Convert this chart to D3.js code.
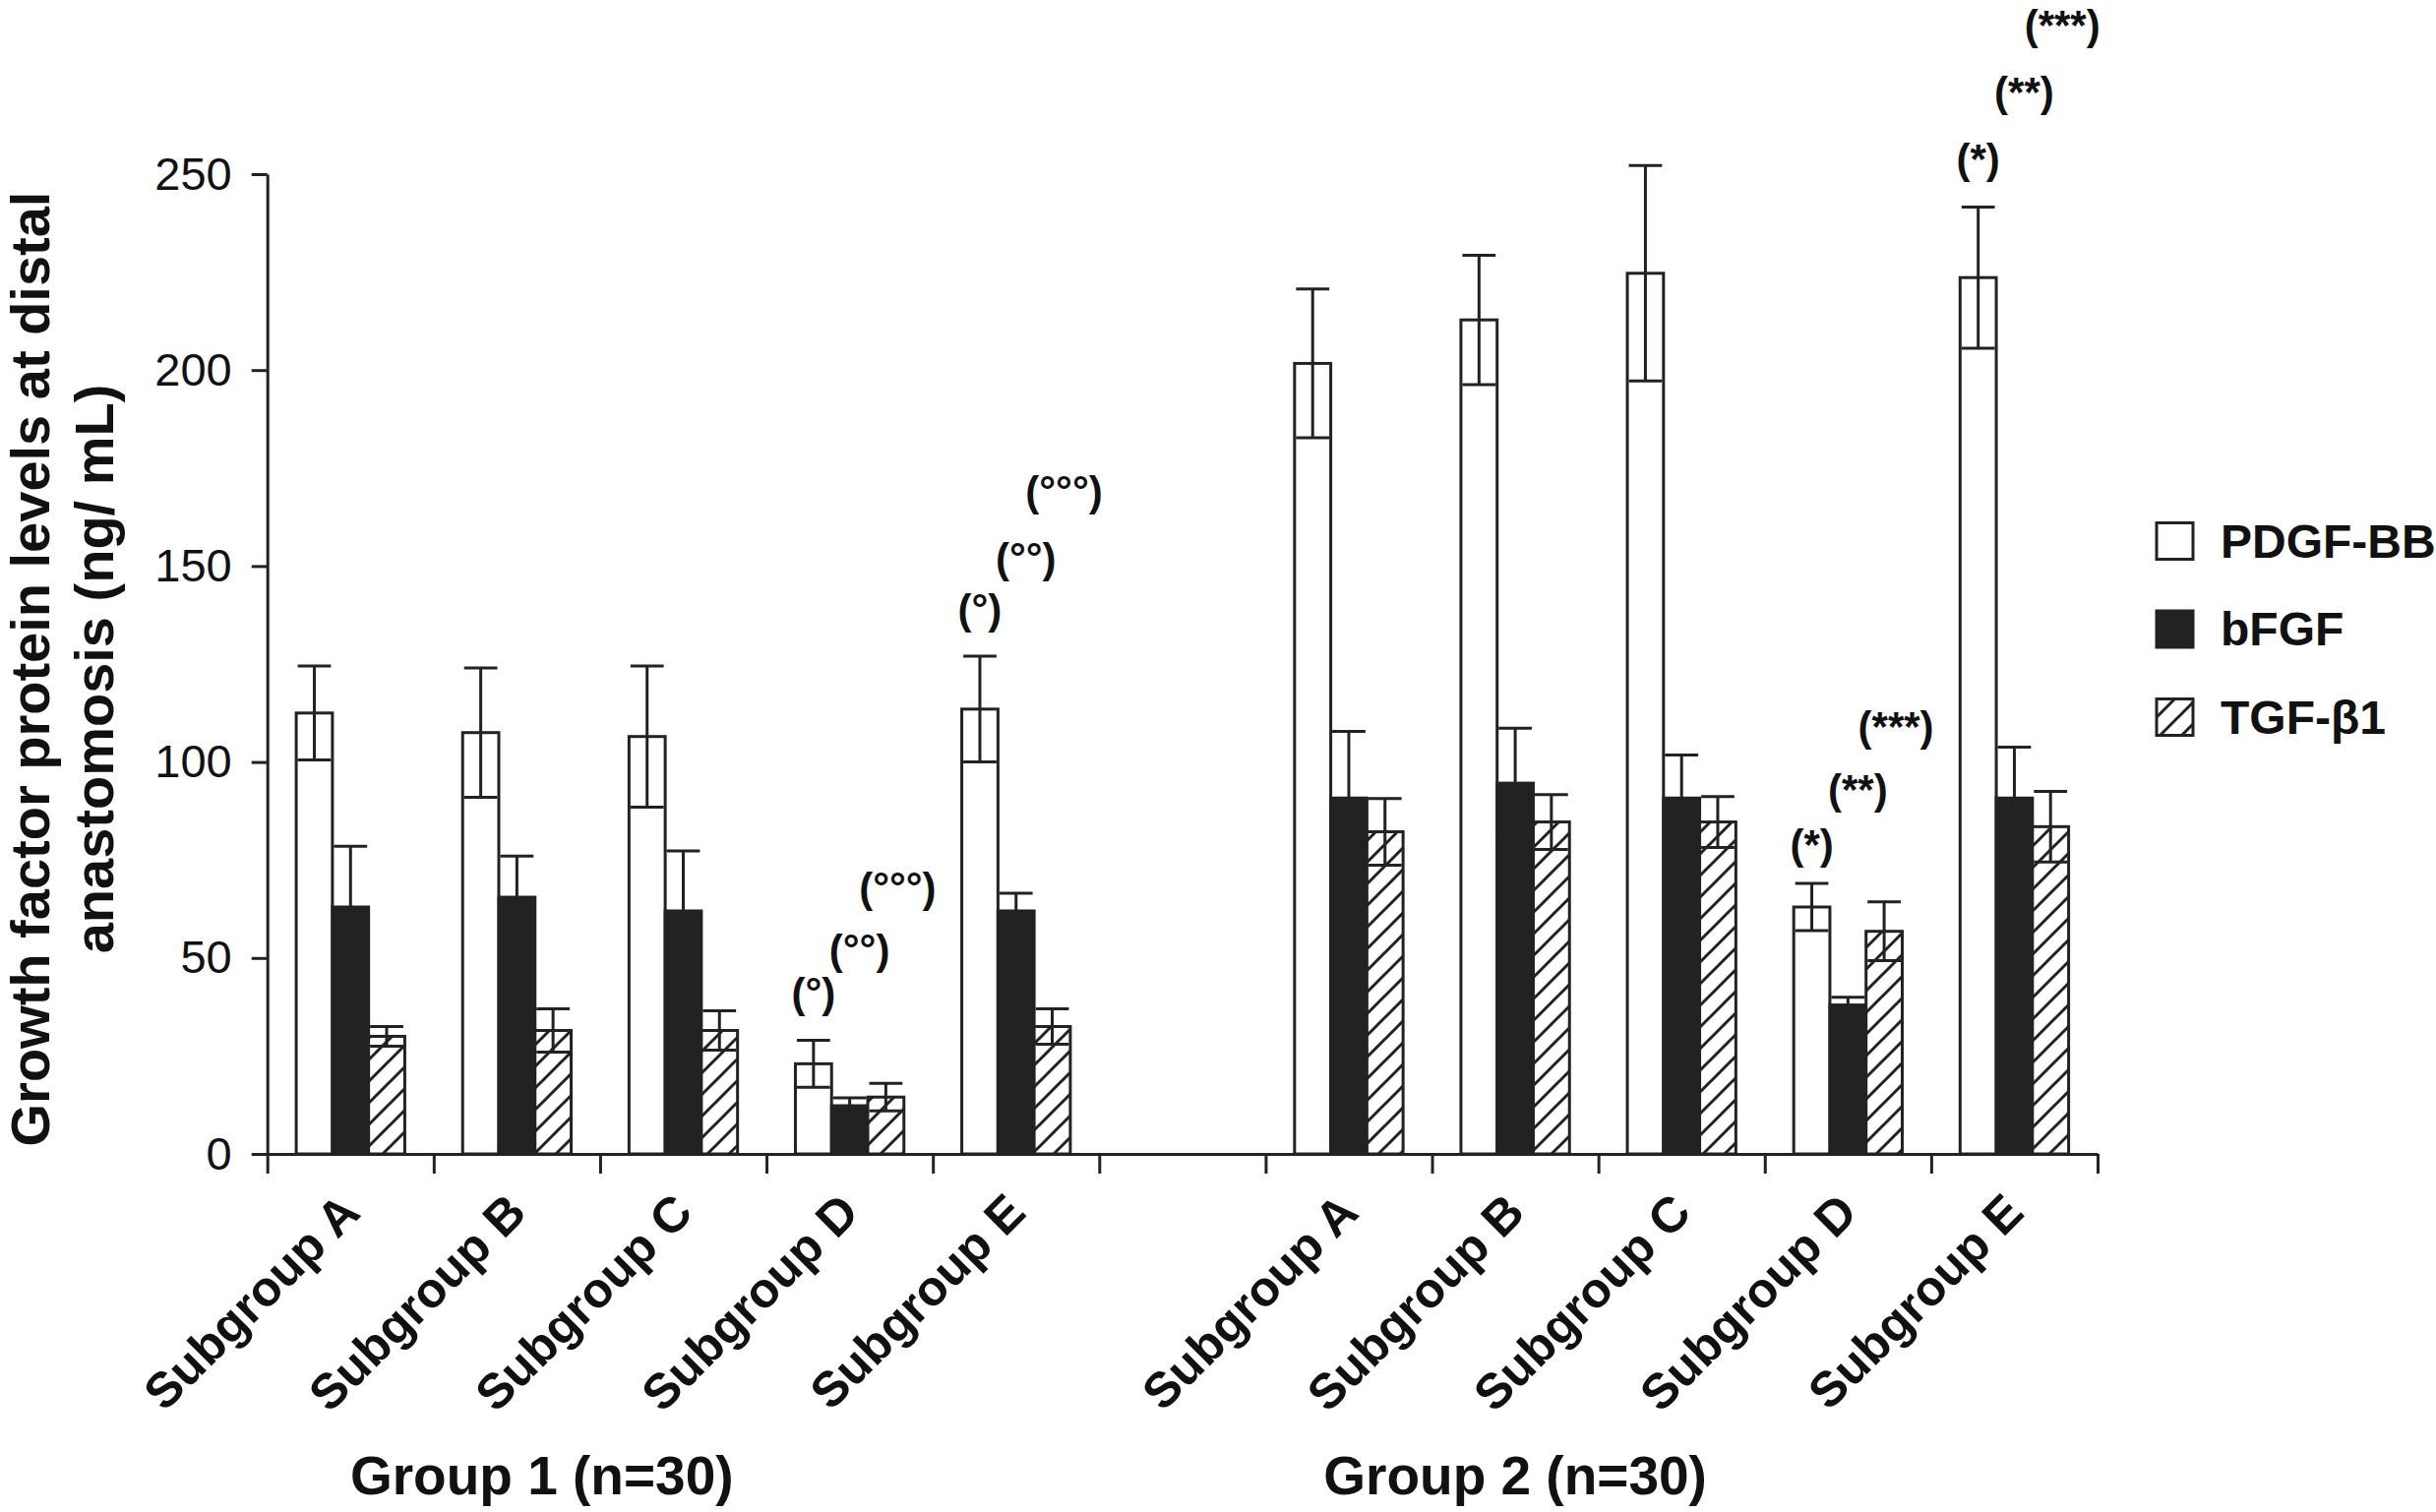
<!DOCTYPE html>
<html>
<head>
<meta charset="utf-8">
<script src="https://cdn.jsdelivr.net/npm/d3@7"></script>
<style>
  body { margin: 0; background: #fff; }
  text { font-family: "Liberation Sans", Arial, Helvetica, sans-serif; fill: #111; }
</style>
</head>
<body>
<script>
// categories
let subgroups = ['Subgroup A', 'Subgroup B', 'Subgroup C', 'Subgroup D', 'Subgroup E'];
let groups = ['Group 1 (n=30)', 'Group 2 (n=30)'];
let series = ['PDGF-BB', 'bFGF', 'TGF-β1'];
let yTicks = [0, 50, 100, 150, 200, 250];

// means (ng/mL), one row per subgroup, columns = series
let group1Mean = [[112.5, 63, 30], [107.5, 65.5, 31.5], [106.5, 62, 31.5], [23, 12.3, 14.5], [113.5, 62, 32.5]];
let group1Err  = [[12, 15.5, 2.5], [16.5, 10.5, 5.5], [18, 15.3, 5], [6, 2, 3.5], [13.5, 4.5, 4.5]];
let group2Mean = [[201.7, 90.8, 82.2], [212.8, 94.6, 84.7], [224.7, 90.8, 84.7], [63, 38, 56.8], [223.6, 90.8, 83.5]];
let group2Err  = [[19, 17, 8.5], [16.5, 14, 7], [27.5, 11, 6.5], [6, 2, 7.5], [18, 13, 9]];

// significance marks: group, subgroup index, series index, text, level (data units)
let marks = [
  [0, 3, 0, '(°)', 41], [0, 3, 1, '(°°)', 52], [0, 3, 2, '(°°°)', 68],
  [0, 4, 0, '(°)', 139], [0, 4, 1, '(°°)', 152], [0, 4, 2, '(°°°)', 169],
  [1, 3, 0, '(*)', 79], [1, 3, 1, '(**)', 93], [1, 3, 2, '(***)', 109],
  [1, 4, 0, '(*)', 254], [1, 4, 1, '(**)', 271], [1, 4, 2, '(***)', 288]
];

let svgWidth = 2476, svgHeight = 1537;
let plotLeft = 271.7, plotRight = 2132, plotTop = 177, plotBottom = 1173;
let ink = '#222';

let svg = d3.select('body').append('svg')
    .attr('width', svgWidth).attr('height', svgHeight);

let defs = svg.append('defs');
let hatch = defs.append('pattern')
    .attr('id', 'hatch').attr('patternUnits', 'userSpaceOnUse')
    .attr('width', 22).attr('height', 22);
hatch.append('rect').attr('width', 22).attr('height', 22).attr('fill', '#fff');
hatch.append('path').attr('d', 'M-5,5 L5,-5 M0,22 L22,0 M17,27 L27,17')
    .attr('stroke', ink).attr('stroke-width', 3);

let fills = ['#fff', ink, 'url(#hatch)'];

// slot keys: 5 subgroups, an empty slot, 5 subgroups
let slots = subgroups.map(s => 'g1 ' + s).concat(['gap']).concat(subgroups.map(s => 'g2 ' + s));

let xScale = d3.scaleBand().domain(slots).range([plotLeft, plotRight]).padding(0);
let xSeries = d3.scaleBand().domain(series).range([0, xScale.bandwidth()]).paddingInner(0).paddingOuter(0.8);
let xEdge = d3.scaleLinear().domain([0, slots.length]).range([plotLeft, plotRight]);
let yScale = d3.scaleLinear().domain([0, 250]).range([plotBottom, plotTop]);

let rows = [];
[group1Mean, group2Mean].forEach((means, g) => {
  let errs = g === 0 ? group1Err : group2Err;
  means.forEach((row, i) => {
    row.forEach((v, j) => {
      rows.push({slot: (g === 0 ? 'g1 ' : 'g2 ') + subgroups[i], s: series[j], j: j, v: v, e: errs[i][j]});
    });
  });
});

// bars
svg.append('g').selectAll('rect')
    .data(rows)
    .enter()
    .append('rect')
    .attr('x', d => xScale(d.slot) + xSeries(d.s))
    .attr('y', d => yScale(d.v))
    .attr('width', xSeries.bandwidth())
    .attr('height', d => yScale(0) - yScale(d.v))
    .attr('fill', d => fills[d.j])
    .attr('stroke', ink).attr('stroke-width', 3);

// error bars
let bw = xSeries.bandwidth();
let eb = svg.append('g').attr('stroke', ink).attr('stroke-width', 3).attr('fill', 'none');
eb.selectAll('path')
    .data(rows)
    .enter()
    .append('path')
    .attr('d', d => {
      let cx = xScale(d.slot) + xSeries(d.s) + bw / 2;
      let hi = yScale(d.v + d.e), lo = yScale(d.v - d.e);
      let h = bw / 2 - 1.5;
      return 'M' + cx + ',' + lo + 'V' + hi +
             'M' + (cx - h) + ',' + hi + 'H' + (cx + h) +
             'M' + (cx - h) + ',' + lo + 'H' + (cx + h);
    });

// significance marks
let nudge = [0, 10, 12];
svg.append('g').selectAll('text')
    .data(marks)
    .enter()
    .append('text')
    .attr('x', d => xScale((d[0] === 0 ? 'g1 ' : 'g2 ') + subgroups[d[1]]) + xSeries(series[d[2]]) + bw / 2 + nudge[d[2]])
    .attr('y', d => yScale(d[4]))
    .attr('text-anchor', 'middle')
    .attr('dominant-baseline', 'central')
    .attr('font-size', 42).attr('font-weight', 'bold')
    .text(d => d[3]);

// y axis
let yAxis = d3.axisLeft(yScale).tickValues(yTicks).tickSize(16).tickPadding(20).tickSizeOuter(0);
let gy = svg.append('g').attr('transform', 'translate(' + plotLeft + ',0)').call(yAxis);
gy.selectAll('path, line').attr('stroke', ink).attr('stroke-width', 3);
gy.selectAll('text').attr('font-size', 47).attr('fill', '#222')
    .style('font-family', '"Liberation Sans", Arial, sans-serif');

// x axis: ticks at slot edges
let xAxis = d3.axisBottom(xEdge).tickValues(d3.range(slots.length + 1)).tickFormat('').tickSize(20).tickSizeOuter(0);
let gx = svg.append('g').attr('transform', 'translate(0,' + plotBottom + ')').call(xAxis);
gx.selectAll('path, line').attr('stroke', ink).attr('stroke-width', 3);

// subgroup labels
svg.append('g').selectAll('text')
    .data(slots.filter(s => s !== 'gap'))
    .enter()
    .append('text')
    .attr('transform', d => 'translate(' + (xScale(d) + xScale.bandwidth() / 2 + 12) + ',' + (plotBottom + 62) + ') rotate(-45)')
    .attr('text-anchor', 'end')
    .attr('font-size', 50).attr('font-weight', 'bold')
    .text(d => d.slice(3));

// group labels
let groupAt = [1.65, 7.5];
svg.append('g').selectAll('text')
    .data(groups)
    .enter()
    .append('text')
    .attr('x', (d, i) => xEdge(groupAt[i]))
    .attr('y', 1519)
    .attr('text-anchor', 'middle')
    .attr('font-size', 55).attr('font-weight', 'bold')
    .text(d => d);

// y title
let title = svg.append('text')
    .attr('transform', 'translate(50,680) rotate(-90)')
    .attr('text-anchor', 'middle')
    .attr('font-size', 56).attr('font-weight', 'bold');
title.append('tspan').attr('x', 0).attr('y', 0).text('Growth factor protein levels at distal');
title.append('tspan').attr('x', 0).attr('y', 65).text('anastomosis (ng/ mL)');

// legend
let legend = svg.append('g').attr('transform', 'translate(2192,550)');
let item = legend.selectAll('g')
    .data(series)
    .enter()
    .append('g')
    .attr('transform', (d, i) => 'translate(0,' + (i * 89.5) + ')');
item.append('rect')
    .attr('x', 0).attr('y', -18.5).attr('width', 37).attr('height', 37)
    .attr('fill', (d, i) => fills[i])
    .attr('stroke', ink).attr('stroke-width', 3);
item.append('text')
    .attr('x', 65).attr('y', 0)
    .attr('dominant-baseline', 'central')
    .attr('font-size', 48).attr('font-weight', 'bold')
    .text(d => d);
</script>
</body>
</html>
